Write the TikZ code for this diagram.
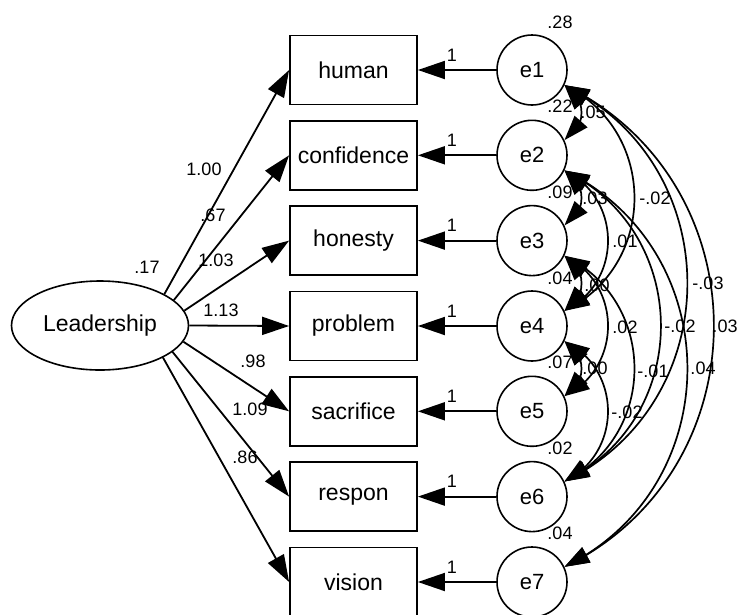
\documentclass[tikz,border=0pt]{standalone}
\usepackage{fontspec}
\setmainfont{Liberation Sans}
\usetikzlibrary{shapes.geometric,arrows.meta,bending}
\begin{document}
\begin{tikzpicture}[x=1pt,y=1pt,
  obs/.style={draw,line width=1.8pt,minimum width=127pt,minimum height=69pt,inner sep=0pt,font=\fontsize{23}{26}\selectfont},
  err/.style={draw,circle,line width=1.6pt,minimum size=70pt,inner sep=0pt,font=\fontsize{22}{24}\selectfont},
  lat/.style={draw,ellipse,line width=1.6pt,minimum width=177pt,minimum height=89pt,inner sep=0pt,font=\fontsize{23}{26}\selectfont},
  lbl/.style={font=\fontsize{18}{20}\selectfont,inner sep=0pt},
  reg/.style={line width=1.8pt,-{Triangle[length=27pt,width=18pt]}},
  cov/.style={line width=1.7pt,{Triangle[length=25pt,width=17pt,flex]}-{Triangle[length=25pt,width=17pt,flex]}},
  cv/.style={out=-26,in=26,looseness=1.18},
]
\useasboundingbox (0,0) rectangle (739,-614);
\clip (0,0) rectangle (739,-614);

\node[lat] (lead) at (100,-325.5) {Leadership};

\node[obs] (b1) at (353.5,-70) {human};
\node[obs] (b2) at (353.5,-155.3) {confidence};
\node[obs] (b3) at (353.5,-240.6) {honesty};
\node[obs] (b4) at (353.5,-326) {problem};
\node[obs] (b5) at (353.5,-411.3) {sacrifice};
\node[obs] (b6) at (353.5,-496.6) {respon};
\node[obs] (b7) at (353.5,-582) {vision};

\node[err] (e1) at (532,-70) {e1};
\node[err] (e2) at (532,-155.3) {e2};
\node[err] (e3) at (532,-240.6) {e3};
\node[err] (e4) at (532,-326) {e4};
\node[err] (e5) at (532,-411.3) {e5};
\node[err] (e6) at (532,-496.6) {e6};
\node[err] (e7) at (532,-582) {e7};

% regression paths
\draw[reg] (lead.26.6) -- (b1.west);
\draw[reg] (lead.19) -- (b2.west);
\draw[reg] (lead.10) -- (b3.west);
\draw[reg] (lead.0) -- (b4.west);
\draw[reg] (lead.-11) -- (b5.west);
\draw[reg] (lead.-20) -- (b6.west);
\draw[reg] (lead.-27) -- (b7.west);

\draw[reg] (e1.west) -- (b1.east);
\draw[reg] (e2.west) -- (b2.east);
\draw[reg] (e3.west) -- (b3.east);
\draw[reg] (e4.west) -- (b4.east);
\draw[reg] (e5.west) -- (b5.east);
\draw[reg] (e6.west) -- (b6.east);
\draw[reg] (e7.west) -- (b7.east);

% covariances
\draw[cov] (e1.-25) to[cv] (e2.25);
\draw[cov] (e2.-25) to[cv] (e3.25);
\draw[cov] (e3.-25) to[cv] (e4.25);
\draw[cov] (e4.-25) to[cv] (e5.25);
\draw[cov] (e1.-25) to[cv] (e4.25);
\draw[cov] (e2.-25) to[cv] (e4.25);
\draw[cov] (e3.-25) to[cv] (e5.25);
\draw[cov] (e1.-25) to[cv] (e6.25);
\draw[cov] (e2.-25) to[cv] (e6.25);
\draw[cov] (e3.-25) to[cv] (e6.25);
\draw[cov] (e4.-25) to[cv] (e6.25);
\draw[cov] (e1.-25) to[cv] (e7.25);
\draw[cov] (e2.-25) to[cv] (e7.25);

% loading labels
\node[lbl] (l17) at (147,-267) {.17};
\node[lbl] (w1) at (204,-169) {1.00};
\node[lbl] (w2) at (213,-215) {.67};
\node[lbl] (w3) at (216,-260) {1.03};
\node[lbl] (w4) at (221,-310) {1.13};
\node[lbl] (w5) at (253,-361) {.98};
\node[lbl] (w6) at (250,-409) {1.09};
\node[lbl] (w7) at (245,-457) {.86};

% fixed error loadings
\node[lbl] (f1) at (452,-55) {1};
\node[lbl] (f2) at (452,-140.3) {1};
\node[lbl] (f3) at (452,-225.6) {1};
\node[lbl] (f4) at (452,-311) {1};
\node[lbl] (f5) at (452,-396.3) {1};
\node[lbl] (f6) at (452,-481.6) {1};
\node[lbl] (f7) at (452,-567) {1};

% variances
\node[lbl] (v1) at (560,-22) {.28};
\node[lbl] (v2) at (560,-106) {.22};
\node[lbl] (v3) at (560,-192) {.09};
\node[lbl] (v4) at (560,-278) {.04};
\node[lbl] (v5) at (560,-362) {.07};
\node[lbl] (v6) at (560,-448) {.02};
\node[lbl] (v7) at (560,-533) {.04};

% covariance labels
\node[lbl] (c12) at (593,-112) {.05};
\node[lbl] (c23) at (595,-198) {.03};
\node[lbl] (c34) at (597,-285) {.00};
\node[lbl] (c45) at (595,-368) {.00};
\node[lbl] (c14) at (655,-198) {-.02};
\node[lbl] (c24) at (625,-241) {.01};
\node[lbl] (c35) at (625,-327) {.02};
\node[lbl] (c36) at (653,-371) {-.01};
\node[lbl] (c46) at (627,-412) {-.02};
\node[lbl] (c16) at (708,-283) {-.03};
\node[lbl] (c26) at (680,-326) {-.02};
\node[lbl] (c17) at (725,-326) {.03};
\node[lbl] (c27) at (703,-368) {.04};
\end{tikzpicture}
\end{document}
